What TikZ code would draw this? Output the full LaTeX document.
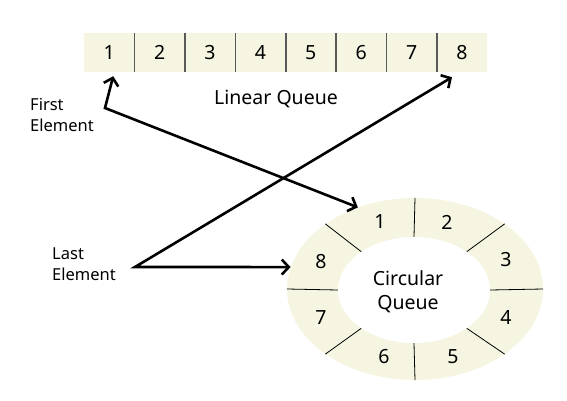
\documentclass[tikz,border=0pt]{standalone}
\usepackage{fontspec}
\setmainfont{Noto Sans}
\usetikzlibrary{arrows.meta,shapes.geometric}
\definecolor{cream}{RGB}{245,245,225}
\tikzset{
  cell/.style ={fill=cream,minimum width=50.4pt,minimum height=39pt,inner sep=0pt,font=\fontsize{19.5}{22}\selectfont},
  num/.style  ={inner sep=1pt,font=\fontsize{19.5}{22}\selectfont},
  lbl/.style  ={align=left,inner sep=1pt,font=\fontsize{16.5}{21}\selectfont},
  ttl/.style  ={align=center,inner sep=1pt,font=\fontsize{19.5}{24}\selectfont},
  oval/.style ={ellipse,inner sep=0pt},
  ar/.style   ={{Straight Barb[length=7pt,width=15pt]}-{Straight Barb[length=7pt,width=15pt]},line width=2.6pt},
  bdiv/.style ={line width=1.5pt,gray!70!black},
  rdiv/.style ={line width=0.8pt},
}
\begin{document}
\begin{tikzpicture}[x=1pt,y=-1pt]
  \useasboundingbox (0,0) rectangle (567,401);
  \foreach \i in {1,...,8}
    \node[cell] (l\i) at ({84+50.4*(\i-0.5)},52.5){\i};
  \foreach \i in {1,...,7}
    \draw[bdiv] (l\i.north east) -- (l\i.south east);
  \node[ttl] (lq) at (276,99){Linear Queue};
  \node[oval,fill=cream,minimum width=256pt,minimum height=182pt] (ring) at (415,289){};
  \node[oval,fill=white,minimum width=152pt,minimum height=106pt] (hole) at (414,290){};
  \foreach \a in {0,36,90,144,180,216,270,324}
    \draw[rdiv] (hole.\a) -- (ring.\a);
  \node[ttl] (cq) at (408,292){Circular\\Queue};
  \foreach \i/\x/\y in {1/380/222,2/447/222,3/506/260,4/506/317,5/453/357,6/384/357,7/321/318,8/321/262}
    \node[num] (r\i) at (\x,\y){\i};
  \node[lbl,anchor=west] (first) at (29,115){First\\Element};
  \node[lbl,anchor=west] (last) at (51,264){Last\\Element};
  \coordinate (fe) at (105,108);
  \coordinate (le) at (135,267);
  \draw[ar] ([xshift=4pt,yshift=-4pt]l1.south) -- (fe) -- (ring.125);
  \draw[ar] ([xshift=-10pt,yshift=-5pt]l8.south) -- (le) -- (ring.170);
\end{tikzpicture}
\end{document}
